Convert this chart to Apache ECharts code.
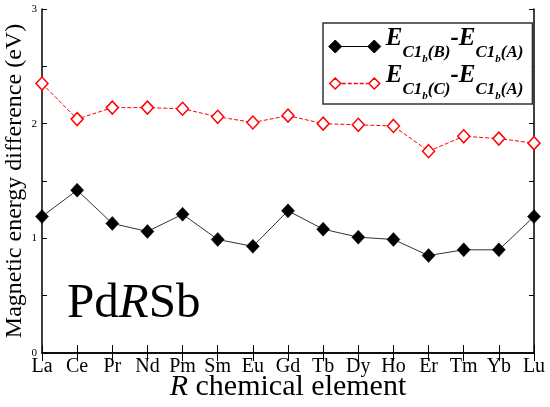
<!DOCTYPE html>
<html>
<head>
<meta charset="utf-8">
<script src="https://cdn.jsdelivr.net/npm/echarts@6/dist/echarts.min.js"></script>
<style>
html,body{margin:0;padding:0;background:#fff;}
#chart{width:550px;height:407px;}
</style>
</head>
<body>
<div id="chart"></div>
<script>
var elements = ['La','Ce','Pr','Nd','Pm','Sm','Eu','Gd','Tb','Dy','Ho','Er','Tm','Yb','Lu'];
var diffB = [1.19,1.42,1.13,1.06,1.21,0.99,0.93,1.24,1.08,1.01,0.99,0.85,0.90,0.90,1.19];
var diffC = [2.35,2.04,2.14,2.14,2.13,2.06,2.01,2.07,2.00,1.99,1.98,1.76,1.89,1.87,1.83];
var yTicks = [0,1,2,3];

var SERIF = '"Liberation Serif","DejaVu Serif",serif';
var nameB = 'E_C1b(B)-E_C1b(A)';
var nameC = 'E_C1b(C)-E_C1b(A)';

var iconB = 'path://M0,0 M52,14 M0,7 L6.5,0.5 L13,7 L6.5,13.5 Z M39,7 L45.5,0.5 L52,7 L45.5,13.5 Z M13,7 L39,7';
var dashes = '';
for (var dx = 13; dx < 39; dx += 6) { dashes += ' M' + dx + ',7 L' + Math.min(dx + 4, 39) + ',7'; }
var iconC = 'path://M0,0 M52,14 M1,7 L6.5,1.5 L12,7 L6.5,12.5 Z M40,7 L45.5,1.5 L51,7 L45.5,12.5 Z' + dashes;

var richBase = {fontFamily: SERIF, fontWeight: 'bold', fontStyle: 'italic', color: '#000'};
function rs(o){ var r = {}; for (var k in richBase) r[k] = richBase[k]; for (var k2 in o) r[k2] = o[k2]; return r; }

var chart = echarts.init(document.getElementById('chart'));
chart.setOption({
  animation: false,
  backgroundColor: '#fff',
  grid: {left: 42, right: 16, top: 9, bottom: 54, containLabel: false, outerBoundsMode: 'none'},
  legend: {
    orient: 'vertical',
    left: 323, top: 23,
    padding: [3, 9, 0, 5],
    itemGap: -4,
    itemWidth: 52, itemHeight: 14,
    borderColor: '#333', borderWidth: 1.5, borderRadius: 0,
    backgroundColor: '#fff',
    data: [
      {name: nameB, icon: iconB, itemStyle: {color: '#000', borderColor: '#000', borderWidth: 1}},
      {name: nameC, icon: iconC, itemStyle: {color: '#fff', borderColor: '#ff0000', borderWidth: 1.5}}
    ],
    formatter: function(n){
      var t = n === nameB ? 'B' : 'C';
      return '{e|E}{s|C1}{ss|b}{s|(' + t + ')}{e|-E}{s|C1}{ss|b}{s|(A)}';
    },
    textStyle: {
      color: '#000',
      rich: {
        e: rs({fontSize: 25, lineHeight: 14, padding: [0, 0, 16, 0]}),
        s: rs({fontSize: 17, lineHeight: 15, padding: [13, 0, 0, 0]}),
        ss: rs({fontSize: 11, lineHeight: 5, padding: [25, 0, 0, 0]})
      }
    }
  },
  xAxis: [{
    type: 'category', data: elements, boundaryGap: false, position: 'bottom',
    name: '{i|R} chemical element', nameLocation: 'middle', nameGap: 19, nameMoveOverlap: false,
    nameTextStyle: {fontFamily: SERIF, fontSize: 30, color: '#000',
      rich: {i: {fontFamily: SERIF, fontSize: 30, fontStyle: 'italic', color: '#000'}}},
    axisLine: {lineStyle: {color: '#000', width: 1.5}},
    axisTick: {inside: true, length: 8, lineStyle: {color: '#000', width: 1}},
    axisLabel: {interval: 0, fontFamily: SERIF, fontSize: 20, color: '#000', margin: 4},
    splitLine: {show: false}
  }, {
    type: 'category', data: elements, boundaryGap: false, position: 'top',
    axisLine: {lineStyle: {color: '#000', width: 1.5}},
    axisTick: {inside: true, length: 8, lineStyle: {color: '#000', width: 1}},
    axisLabel: {show: false},
    splitLine: {show: false}
  }],
  yAxis: [{
    type: 'value', min: yTicks[0], max: yTicks[yTicks.length - 1], interval: 1, position: 'left',
    name: 'Magnetic energy difference (eV)', nameLocation: 'middle', nameGap: 15, nameMoveOverlap: false,
    nameTextStyle: {fontFamily: SERIF, fontSize: 24, color: '#000'},
    axisLine: {show: true, lineStyle: {color: '#000', width: 1.5}},
    axisTick: {show: true, inside: true, length: 5, lineStyle: {color: '#000', width: 1}},
    minorTick: {show: true, splitNumber: 2, length: 5, lineStyle: {color: '#000', width: 1}},
    axisLabel: {fontFamily: SERIF, fontSize: 11, color: '#000', margin: 5},
    splitLine: {show: false}
  }, {
    type: 'value', min: yTicks[0], max: yTicks[yTicks.length - 1], interval: 1, position: 'right',
    axisLine: {show: true, lineStyle: {color: '#000', width: 1.5}},
    axisTick: {show: true, inside: true, length: 5, lineStyle: {color: '#000', width: 1}},
    minorTick: {show: true, splitNumber: 2, length: 5, lineStyle: {color: '#000', width: 1}},
    axisLabel: {show: false},
    splitLine: {show: false}
  }],
  series: [{
    name: nameB, type: 'line', data: diffB, xAxisIndex: 0, yAxisIndex: 0,
    symbol: 'diamond', symbolSize: [13, 14], showAllSymbol: true,
    lineStyle: {color: '#333', width: 1},
    itemStyle: {color: '#000', borderColor: '#000', borderWidth: 0.5},
    z: 3
  }, {
    name: nameC, type: 'line', data: diffC, xAxisIndex: 0, yAxisIndex: 0,
    symbol: 'diamond', symbolSize: [12, 13], showAllSymbol: true,
    lineStyle: {color: '#ff0000', width: 1, type: [4, 2]},
    itemStyle: {color: '#fff', borderColor: '#ff0000', borderWidth: 1.5},
    z: 3
  }],
  graphic: [{
    type: 'text', left: 67, top: 280,
    style: {
      text: '{a|Pd}{b|R}{a|Sb}',
      rich: {
        a: {fontFamily: SERIF, fontSize: 49, fill: '#000'},
        b: {fontFamily: SERIF, fontSize: 49, fontStyle: 'italic', fill: '#000'}
      }
    }
  }]
});
</script>
</body>
</html>
